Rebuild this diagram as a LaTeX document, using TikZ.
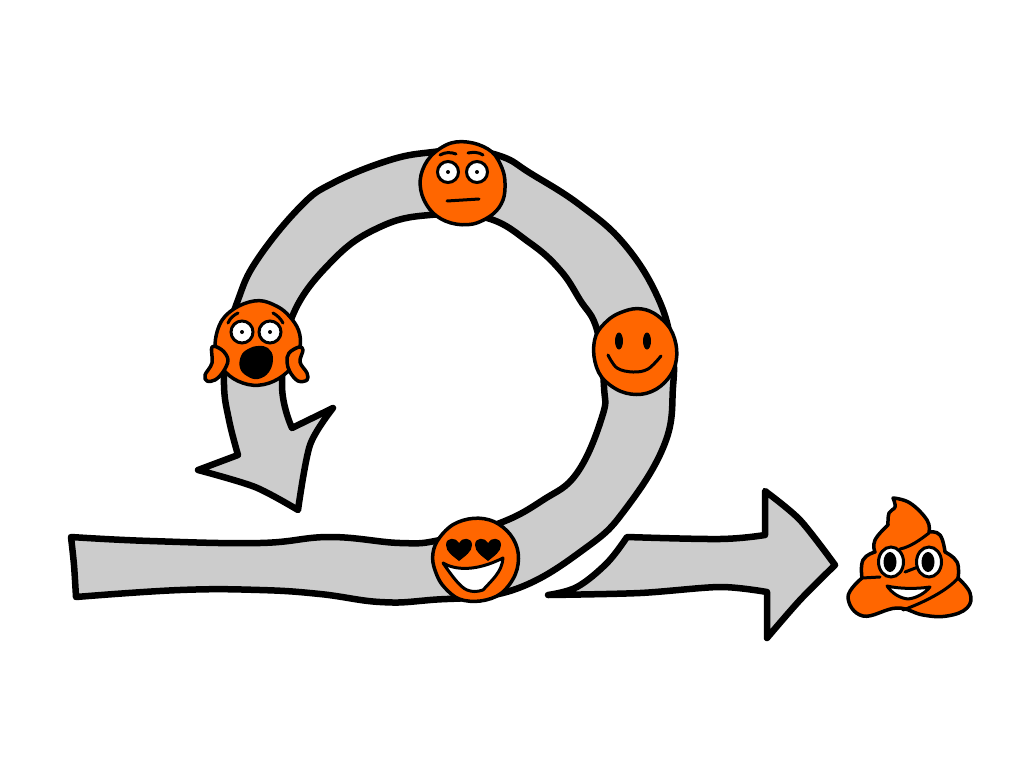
\documentclass[tikz,border=0pt]{standalone}
\usepackage{xcolor}
\usetikzlibrary{positioning}
\definecolor{faceorange}{HTML}{FF6600}
\definecolor{arrowgray}{HTML}{CCCCCC}
\tikzset{
    arrowbody/.style={draw=black, fill=arrowgray, line width=6.5pt, line join=round, line cap=round},
    facedisc/.style={draw=black, fill=faceorange, line width=3.5pt, line join=round},
    eyewhite/.style={draw=black, fill=white, line width=3pt},
    inkfill/.style={fill=black},
    inkline/.style={draw=black, line width=3pt, line cap=round, line join=round},
    toothfill/.style={draw=black, fill=white, line width=3pt, line join=round}
}
\newcommand{\faceblob}[2]{
    \draw[facedisc, shift={#1}, rotate=#2] plot[smooth cycle, tension=0.6] coordinates {(42,0) (40,17) (30,31) (10,41) (-12,40) (-30,30) (-41,12) (-42,-8) (-32,-27) (-12,-40) (10,-40) (29,-31) (39,-15)};
}
\newcommand{\heartshape}[1]{
    \fill[inkfill, shift={#1}] (0,12) .. controls (-6,7) and (-13,3) .. (-13,-4) .. controls (-13,-12) and (-3,-12) .. (0,-6) .. controls (3,-12) and (13,-12) .. (13,-4) .. controls (13,3) and (6,7) .. (0,12) -- cycle;
}
\begin{document}
\begin{tikzpicture}[x=1pt, y=-1pt]
    \useasboundingbox (0,0) rectangle (1024,768);
    % Arrows
    \draw[arrowbody] plot[smooth, tension=0.7] coordinates {(71,537) (150,541) (260,543) (330,537) (400,543) (440,540) (500,523) (543,500) (577,473) (602,417) (604,387) (597,330) (580,300) (560,270) (530,243) (487,218) (430,215) (380,227) (333,260) (292,317) (282,385) (292,428)}
        -- (333,408) -- plot[smooth, tension=0.5] coordinates {(333,408) (310,445) (298,510)}
        -- plot[smooth, tension=0.5] coordinates {(298,510) (255,487) (198,470)}
        -- plot[smooth, tension=0.5] coordinates {(198,470) (238,455)}
        -- plot[smooth, tension=0.7] coordinates {(238,455) (229,420) (224,385) (227,340) (238,300) (257,260) (300,207) (333,183) (390,160) (433,152) (468,150) (503,157) (530,173) (580,205) (625,245) (659,300) (672,350) (673,387) (665,443) (627,507) (587,547) (513,590) (430,600) (380,602) (320,594) (260,590) (180,590) (76,597)}
        -- plot[smooth, tension=0.5] coordinates {(76,597) (74,565) (71,537)} -- cycle;
    \draw[arrowbody] plot[smooth, tension=0.6] coordinates {(548,595) (577,587) (607,563) (627,537)}
        -- plot[smooth, tension=0.6] coordinates {(627,537) (720,539) (765,535)}
        -- (765,491) -- plot[smooth, tension=0.5] coordinates {(765,491) (800,520) (835,565)}
        -- plot[smooth, tension=0.5] coordinates {(835,565) (800,600) (767,638)}
        -- (767,592) -- plot[smooth, tension=0.5] coordinates {(767,592) (720,587) (640,593) (548,595)};
    % Neutral face
    \faceblob{(463,183)}{0}
    \draw[eyewhite] (448,172) circle (10.5);
    \draw[eyewhite] (477,172) circle (10.5);
    \fill[inkfill] (448,172) circle (2);
    \fill[inkfill] (477,172) circle (2);
    \draw[inkline] (440,155) .. controls (445,152) and (451,152) .. (456,154);
    \draw[inkline] (468,153) .. controls (473,152) and (479,152) .. (483,155);
    \draw[inkline] (447,201) -- (479,199);
    % Screaming face
    \faceblob{(257,343)}{40}
    \draw[eyewhite] (242,332) circle (11);
    \draw[eyewhite] (270,332) circle (11);
    \fill[inkfill] (242,332) circle (2);
    \fill[inkfill] (270,332) circle (2);
    \draw[inkline] (228,323) .. controls (230,318) and (234,315) .. (238,313);
    \draw[inkline] (273,313) .. controls (277,315) and (281,319) .. (283,323);
    \fill[inkfill] plot[smooth cycle, tension=0.7] coordinates {(258,346) (268,348) (273,358) (269,372) (258,379) (247,376) (240,368) (241,356) (248,349)};
    \draw[facedisc] plot[smooth cycle, tension=0.6] coordinates {(212,347) (222,350) (228,360) (223,372) (215,380) (207,381) (205,375) (212,363)};
    \draw[facedisc] plot[smooth cycle, tension=0.6] coordinates {(299,347) (289,353) (287,362) (290,372) (298,381) (307,380) (307,373) (300,362) (303,350)};
    % Smiling face
    \faceblob{(635,352)}{110}
    \fill[inkfill] (619,341) ellipse (4 and 8.5);
    \fill[inkfill] (647,341) ellipse (4 and 8.5);
    \draw[inkline] plot[smooth, tension=0.6] coordinates {(608,355) (617,368) (633,372) (648,369) (661,356)};
    % Loving face
    \faceblob{(476,560)}{200}
    \heartshape{(459,549)}
    \heartshape{(488,549)}
    \draw[toothfill] (443,563) .. controls (455,570) and (475,572) .. (503,558) .. controls (502,572) and (492,580) .. (483,590) .. controls (477,592) and (472,592) .. (467,590) .. controls (460,587) and (452,576) .. (443,563) -- cycle;
    % Pile
    \draw[facedisc] plot[smooth, tension=0.7] coordinates {(893,498) (910,503) (927,520) (929,532)}
        -- plot[smooth, tension=0.8] coordinates {(929,532) (940,535) (945,552)}
        -- plot[smooth, tension=0.8] coordinates {(945,552) (957,562) (958,578)}
        -- plot[smooth, tension=0.7] coordinates {(958,578) (970,593) (967,608) (947,616) (923,615) (897,608) (863,616) (848,597) (862,578)}
        -- plot[smooth, tension=0.8] coordinates {(862,578) (863,560) (875,552)}
        -- plot[smooth, tension=0.8] coordinates {(875,552) (875,540) (888,525)}
        -- plot[smooth, tension=0.7] coordinates {(888,525) (889,513) (895,507) (893,498)} -- cycle;
    \draw[inkline] (900,549) .. controls (910,547) and (920,540) .. (929,533);
    \draw[inkline] (862,578) -- (880,577);
    \draw[inkline] (905,572) -- (918,567);
    \draw[inkline] (958,578) .. controls (948,590) and (925,602) .. (903,610);
    \draw[eyewhite] (891,562) ellipse (12.5 and 15);
    \draw[eyewhite] (929,562) ellipse (12.5 and 15);
    \fill[inkfill] (890,562) ellipse (6.5 and 10);
    \fill[inkfill] (928,562) ellipse (6.5 and 10);
    \draw[toothfill] (887,586) .. controls (900,589) and (917,589) .. (930,587) .. controls (925,593) and (917,598) .. (908,599) .. controls (899,598) and (892,593) .. (887,586) -- cycle;
\end{tikzpicture}
\end{document}
